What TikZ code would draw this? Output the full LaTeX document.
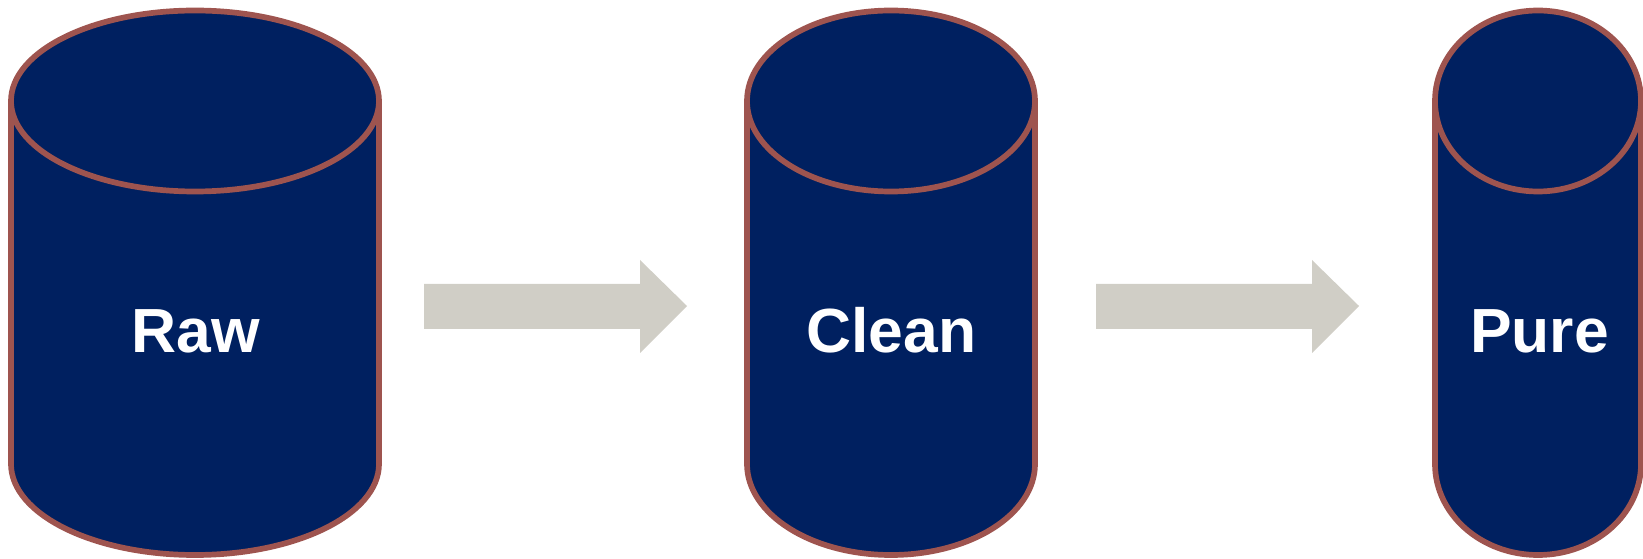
\documentclass[tikz,border=0pt]{standalone}
\usepackage{fontspec}
\setmainfont{Liberation Sans}
\definecolor{tanknavy}{HTML}{002060}
\definecolor{tankrim}{HTML}{9E544F}
\definecolor{flowgrey}{HTML}{D0CEC6}
\begin{document}
\begin{tikzpicture}[x=0.02cm,y=0.02cm,
        tank/.style={draw=tankrim,fill=tanknavy,line width=0.114cm},
        flow/.style={fill=flowgrey},
        tanklabel/.style={text=white,font=\fontsize{35.5}{36}\selectfont\bfseries,anchor=base,inner sep=0pt}]
        \useasboundingbox (0,0) rectangle (1643,558);
        % raw
        \draw[tank] (11,457) -- (11,94) arc (180:360:184 and 91) -- (379,457);
        \draw[tank] (195,457) ellipse (184 and 90.5);
        \node[tanklabel] (raw) at (195.5,205) {Raw};
        % clean
        \draw[tank] (747,457) -- (747,94) arc (180:360:144 and 91) -- (1035,457);
        \draw[tank] (891,457) ellipse (144 and 90.5);
        \node[tanklabel] (clean) at (891.5,205) {Clean};
        % pure
        \draw[tank] (1435,457) -- (1435,94) arc (180:360:103 and 91) -- (1641,457);
        \draw[tank] (1538,457) ellipse (103 and 90.5);
        \node[tanklabel] (pure) at (1539.5,205) {Pure};
        % arrows
        \fill[flow] (424,274) -- (640,274) -- (640,298) -- (687,252) -- (640,205) -- (640,229) -- (424,229) -- cycle;
        \fill[flow] (1096,274) -- (1312,274) -- (1312,298) -- (1359,252) -- (1312,205) -- (1312,229) -- (1096,229) -- cycle;
    \end{tikzpicture}
\end{document}
